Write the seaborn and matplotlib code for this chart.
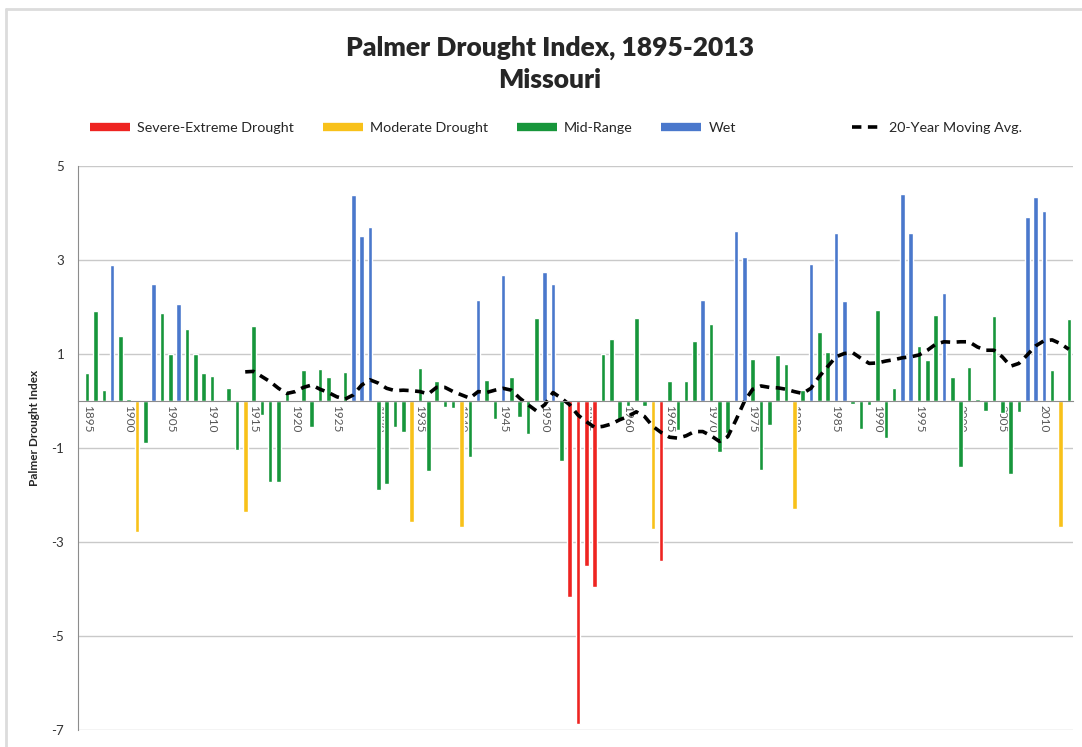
import matplotlib
matplotlib.use("Agg")
import matplotlib.pyplot as plt
from matplotlib.lines import Line2D
import numpy as np
import pandas as pd
import seaborn as sns

# Palmer Drought Index, Missouri, one value per year
years = list(range(1895, 2014))
pdi = [
    0.59, 1.92, 0.24, 2.90, 1.39, 0.05, -2.78, -0.89, 2.48, 1.88,    # 1895-1904
    0.99, 2.07, 1.54, 0.99, 0.60, 0.54, 0.02, 0.28, -1.05, -2.36,    # 1905-1914
    1.59, -0.30, -1.73, -1.73, 0.21, 0.02, 0.67, -0.55, 0.69, 0.51,  # 1915-1924
    0.02, 0.62, 4.38, 3.52, 3.71, -1.90, -1.77, -0.55, -0.66, -2.57, # 1925-1934
    0.71, -1.49, 0.42, -0.13, -0.14, -2.69, -1.19, 2.14, 0.45, -0.38, # 1935-1944
    2.68, 0.52, -0.34, -0.71, 1.77, 2.74, 2.48, -1.27, -4.16, -6.87, # 1945-1954
    -3.51, -3.96, 0.99, 1.32, -0.40, -0.10, 1.76, -0.11, -2.72, -3.40, # 1955-1964
    0.42, -0.62, 0.42, 1.28, 2.15, 1.64, -1.08, -0.69, 3.62, 3.07,   # 1965-1974
    0.90, -1.46, -0.52, 0.97, 0.79, -2.29, 0.23, 2.92, 1.46, 1.04,   # 1975-1984
    3.57, 2.12, -0.07, -0.59, -0.09, 1.94, -0.79, 0.28, 4.40, 3.57,  # 1985-1994
    1.18, 0.88, 1.83, 2.29, 0.51, -1.40, 0.72, 0.05, -0.21, 1.80,    # 1995-2004
    -0.25, -1.56, -0.23, 3.92, 4.35, 4.05, 0.65, -2.68, 1.75,        # 2005-2013
]

# 20-year moving average as drawn on the chart
ma_years = list(range(1914, 2014))
moving_avg = [
    0.62, 0.63, 0.52, 0.41, 0.27, 0.16, 0.20, 0.29, 0.34, 0.25,      # 1914-1923
    0.18, 0.09, 0.04, 0.13, 0.34, 0.45, 0.38, 0.27, 0.22, 0.23,      # 1924-1933
    0.22, 0.20, 0.15, 0.29, 0.29, 0.20, 0.13, 0.06, 0.20, 0.18,      # 1934-1943
    0.23, 0.27, 0.23, 0.06, -0.08, -0.21, -0.08, 0.18, 0.06, -0.08,  # 1944-1953
    -0.30, -0.44, -0.56, -0.54, -0.49, -0.40, -0.33, -0.23, -0.33, -0.54, # 1954-1963
    -0.67, -0.77, -0.79, -0.74, -0.65, -0.65, -0.74, -0.86, -0.76, -0.40, # 1964-1973
    -0.01, 0.25, 0.32, 0.29, 0.28, 0.25, 0.20, 0.16, 0.27, 0.52,     # 1974-1983
    0.73, 0.94, 1.01, 1.03, 0.91, 0.80, 0.81, 0.85, 0.88, 0.92,      # 1984-1993
    0.94, 0.98, 1.08, 1.21, 1.26, 1.25, 1.26, 1.26, 1.15, 1.08,      # 1994-2003
    1.08, 0.94, 0.74, 0.80, 0.98, 1.17, 1.28, 1.30, 1.22, 1.10,      # 2004-2013
]

categories = ["Severe-Extreme Drought", "Moderate Drought", "Mid-Range", "Wet"]
colors = ["#ee2421", "#f8c11a", "#17963b", "#4a78cc"]
palette = dict(zip(categories, colors))

df = pd.DataFrame({"year": years, "pdi": pdi})
df["category"] = pd.cut(df["pdi"], bins=[-np.inf, -3, -2, 2, np.inf],
                        labels=categories).astype(str)

sns.set_style("white")
plt.rcParams["font.family"] = ["Lato", "DejaVu Sans"]
plt.rcParams["axes.unicode_minus"] = False

W, H = 1082, 747
fig = plt.figure(figsize=(W / 100, H / 100), dpi=100)
ax = fig.add_axes([78 / W, 1 - 730 / H, (1073 - 78) / W, (730 - 166) / H])

sns.barplot(data=df, x="year", y="pdi", hue="category", hue_order=categories,
            palette=palette, native_scale=True, dodge=False, width=0.55,
            saturation=1, errorbar=None, legend=False, ax=ax)
dash = (0, (2.6, 1.8))
sns.lineplot(x=ma_years, y=moving_avg, color="black", lw=2.6, linestyle=dash,
             dash_capstyle="butt", ax=ax)

ax.set_xlim(1893.9, 2013.4)
ax.set_ylim(-7, 5)
ax.set_yticks([5, 3, 1, -1, -3, -5, -7])
ax.yaxis.grid(True, color="#c9c9c9", lw=1)
ax.set_axisbelow(True)

for s in ["top", "right"]:
    ax.spines[s].set_visible(False)
ax.spines["left"].set_color("#8c8c8c")
ax.spines["bottom"].set_color("#8c8c8c")
ax.spines["bottom"].set_position(("data", 0))

tick_years = list(range(1895, 2014, 5))
ax.set_xticks(tick_years)
ax.set_xticklabels([str(y) for y in tick_years], rotation=270, va="top", ha="center")
ax.set_xticks(np.arange(1894.5, 2014, 1), minor=True)
ax.tick_params(axis="x", which="major", length=0, pad=3, labelsize=8.5,
               labelcolor="#555555")
ax.tick_params(axis="x", which="minor", length=3, color="#9a9a9a", direction="out")
ax.tick_params(axis="y", length=4, color="#8c8c8c", labelsize=9.5,
               labelcolor="#333333", pad=6)

ax.set_xlabel("")
ax.set_ylabel("Palmer Drought Index", fontweight="bold", fontsize=8.5)
ax.yaxis.set_label_coords(-38 / 995, 0.535)

fig.text(550 / W, 1 - 48 / H, "Palmer Drought Index, 1895-2013",
         ha="center", va="center", fontsize=19, fontweight="heavy")
fig.text(550 / W, 1 - 80 / H, "Missouri",
         ha="center", va="center", fontsize=19, fontweight="heavy")

bar_handles = [Line2D([], [], color=c, lw=6, solid_capstyle="butt") for c in colors]
fig.legend(bar_handles, categories, loc="center left",
           bbox_to_anchor=(90 / W, 1 - 128 / H), ncol=4, frameon=False,
           handlelength=2.8, handletextpad=0.5, columnspacing=2.0,
           borderpad=0, borderaxespad=0, fontsize=10.3)
ma_handle = Line2D([], [], color="black", lw=2.6, linestyle=dash, dash_capstyle="butt")
fig.legend([ma_handle], ["20-Year Moving Avg."], loc="center left",
           bbox_to_anchor=(852 / W, 1 - 128 / H), frameon=False,
           handlelength=2.0, handletextpad=0.6, borderpad=0, borderaxespad=0,
           fontsize=10.3)

# light frame of the original chart area
fig.add_artist(Line2D([6 / W, 1], [1 - 9 / H, 1 - 9 / H], color="#dcdcdc", lw=2,
                      transform=fig.transFigure))
fig.add_artist(Line2D([6 / W, 6 / W], [0, 1 - 9 / H], color="#dcdcdc", lw=2,
                      transform=fig.transFigure))

fig.savefig("out.png", dpi=100, facecolor="white")
